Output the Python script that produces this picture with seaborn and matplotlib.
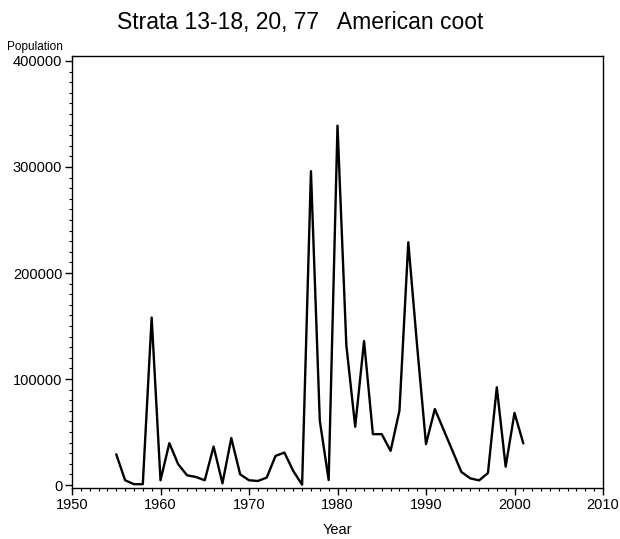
import matplotlib
matplotlib.use("Agg")
import matplotlib.pyplot as plt
from matplotlib.ticker import MultipleLocator
import seaborn as sns
import pandas as pd

# Survey years (no estimates for 1992-1993)
years = [1955, 1956, 1957, 1958, 1959, 1960, 1961, 1962, 1963, 1964,
         1965, 1966, 1967, 1968, 1969, 1970, 1971, 1972, 1973, 1974,
         1975, 1976, 1977, 1978, 1979, 1980, 1981, 1982, 1983, 1984,
         1985, 1986, 1987, 1988, 1989, 1990, 1991, 1994, 1995, 1996,
         1997, 1998, 1999, 2000, 2001]

# Estimated population of American coot
population = [29000, 4500, 800, 800, 158000, 4500, 39500, 19600, 9200, 7600,
              4500, 36300, 1600, 44300, 10100, 4500, 3800, 7000, 27500, 30600,
              13300, 300, 296000, 60700, 4700, 339000, 131800, 55000, 135800, 48000,
              48000, 32200, 70100, 229000, 131000, 38600, 71700, 12300, 6300, 4400,
              11300, 92200, 17300, 68000, 39200]

title = "Strata 13-18, 20, 77   American coot"
x_label = "Year"
y_label = "Population"

df = pd.DataFrame({"Year": years, "Population": population})

sns.set_style("ticks")
plt.rcParams["font.family"] = ["Liberation Sans", "DejaVu Sans"]
plt.rcParams["text.color"] = "black"
plt.rcParams["axes.labelcolor"] = "black"
plt.rcParams["xtick.color"] = "black"
plt.rcParams["ytick.color"] = "black"

fig = plt.figure(figsize=(6.2, 5.39), dpi=100)
ax = fig.add_axes([72 / 620, 1 - 488 / 539, (603 - 72) / 620, (488 - 56) / 539])

sns.lineplot(data=df, x="Year", y="Population", ax=ax, color="black",
             linewidth=1.7, estimator=None, sort=True)

ax.set_xlim(1950, 2010)
ax.set_ylim(-2800, 404700)
ax.xaxis.set_major_locator(MultipleLocator(10))
ax.xaxis.set_minor_locator(MultipleLocator(1))
ax.yaxis.set_major_locator(MultipleLocator(100000))
ax.yaxis.set_minor_locator(MultipleLocator(10000))
ax.ticklabel_format(axis="y", style="plain", useOffset=False)

ax.tick_params(axis="both", which="major", length=5, width=1, labelsize=10.5,
               colors="black", labelcolor="black", pad=2)
ax.tick_params(axis="both", which="minor", length=2.5, width=0.8, colors="black")
for side in ["top", "right", "left", "bottom"]:
    ax.spines[side].set_visible(True)
    ax.spines[side].set_color("black")
    ax.spines[side].set_linewidth(1)

ax.set_xlabel(x_label, fontsize=10.5, labelpad=8, color="black")
ax.set_ylabel("")
fig.text(35 / 620, 1 - 47 / 539, y_label, fontsize=8.5, ha="center", va="center",
         color="black")
fig.text(300 / 620, 1 - 22 / 539, title, fontsize=16.5, ha="center", va="center",
         color="black")

fig.savefig("out.png", dpi=100)
